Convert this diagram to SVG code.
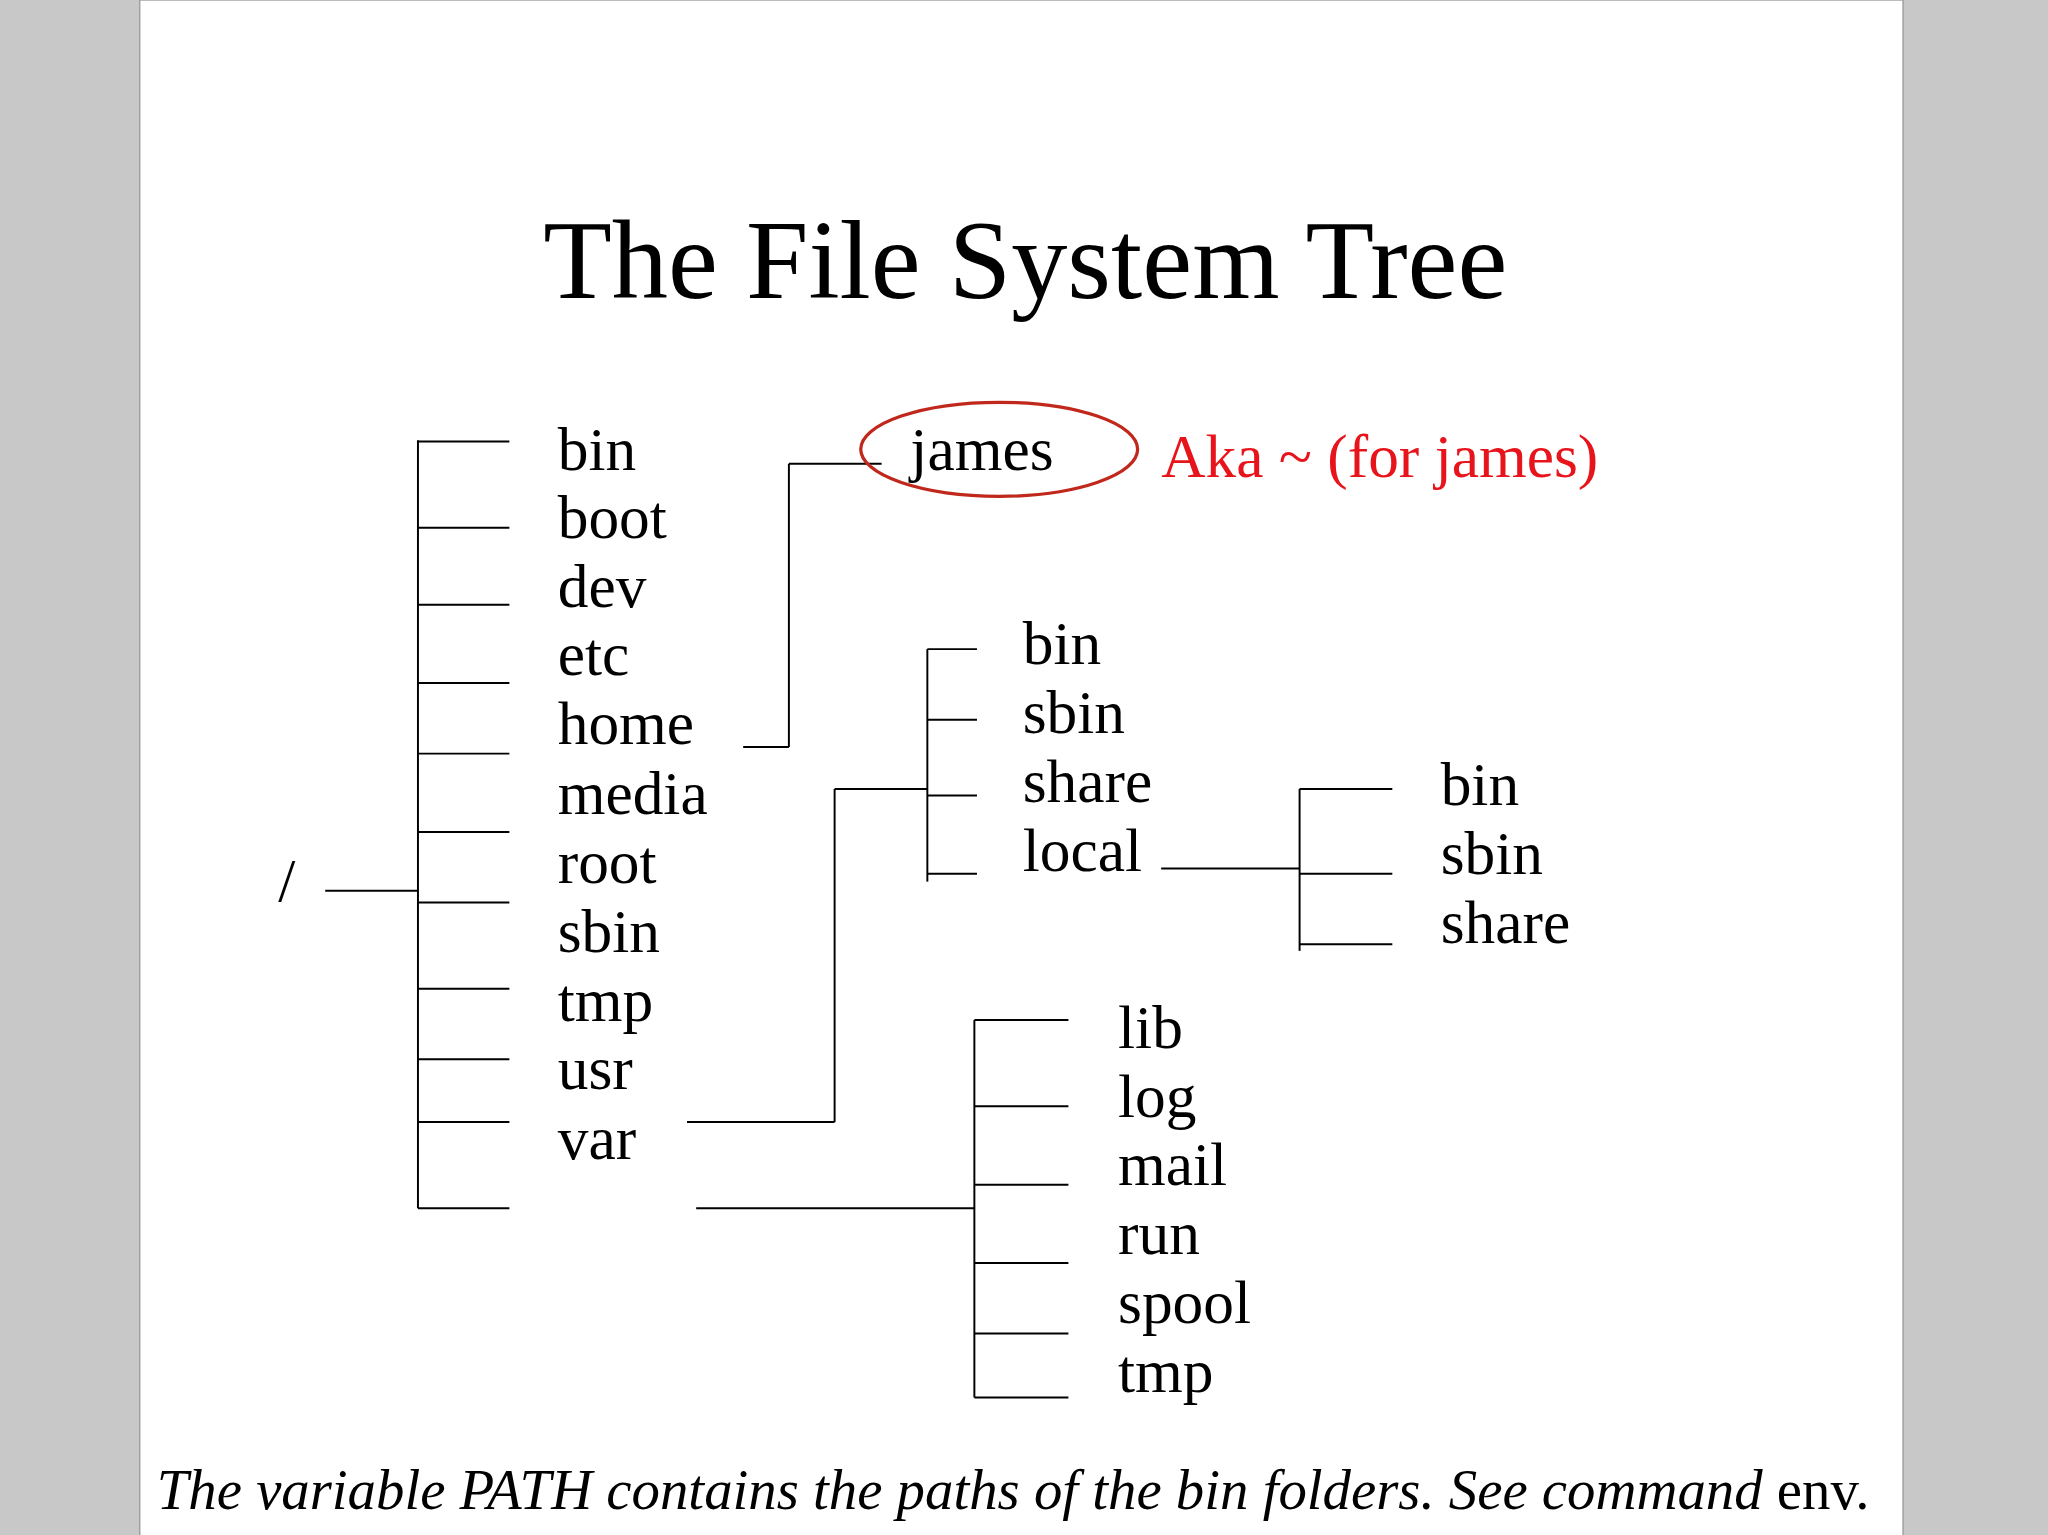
<svg xmlns="http://www.w3.org/2000/svg" width="2048" height="1535" viewBox="0 0 2048 1535">
<style>
.t{font-family:"Liberation Serif",serif;font-size:47px;fill:#000}
.c line{stroke:#000;stroke-width:1.5}
</style>
<rect width="2048" height="1535" fill="#c8c8c8"/>
<g transform="scale(1.30612)">
<rect x="107" y="0" width="1350" height="1176" fill="#fff" stroke="#999" stroke-width="1"/>
<text x="785" y="228" text-anchor="middle" style="font-family:'Liberation Serif',serif;font-size:86px">The File System Tree</text>
<g class="c">
<line x1="249" y1="682" x2="320" y2="682"/>
<line x1="320" y1="337" x2="320" y2="925"/>
<line x1="320" y1="338" x2="390" y2="338"/><line x1="320" y1="404" x2="390" y2="404"/><line x1="320" y1="463" x2="390" y2="463"/><line x1="320" y1="523" x2="390" y2="523"/><line x1="320" y1="577" x2="390" y2="577"/><line x1="320" y1="637" x2="390" y2="637"/><line x1="320" y1="691" x2="390" y2="691"/><line x1="320" y1="757" x2="390" y2="757"/><line x1="320" y1="811" x2="390" y2="811"/><line x1="320" y1="859" x2="390" y2="859"/><line x1="320" y1="925" x2="390" y2="925"/>
<line x1="569" y1="572" x2="604" y2="572"/><line x1="604" y1="355" x2="604" y2="572"/><line x1="604" y1="355" x2="675" y2="355"/>
<line x1="526" y1="859" x2="639" y2="859"/><line x1="639" y1="604" x2="639" y2="859"/><line x1="639" y1="604" x2="710" y2="604"/>
<line x1="710" y1="497" x2="710" y2="675"/>
<line x1="710" y1="497" x2="748" y2="497"/><line x1="710" y1="551" x2="748" y2="551"/><line x1="710" y1="609" x2="748" y2="609"/><line x1="710" y1="669" x2="748" y2="669"/>
<line x1="889" y1="665" x2="995" y2="665"/><line x1="995" y1="604" x2="995" y2="728"/>
<line x1="995" y1="604" x2="1066" y2="604"/><line x1="995" y1="669" x2="1066" y2="669"/><line x1="995" y1="723" x2="1066" y2="723"/>
<line x1="533" y1="925" x2="746" y2="925"/><line x1="746" y1="781" x2="746" y2="1070"/>
<line x1="746" y1="781" x2="818" y2="781"/><line x1="746" y1="847" x2="818" y2="847"/><line x1="746" y1="907" x2="818" y2="907"/><line x1="746" y1="967" x2="818" y2="967"/><line x1="746" y1="1021" x2="818" y2="1021"/><line x1="746" y1="1070" x2="818" y2="1070"/>
</g>
<g id="root"><text class="t" x="213" y="690">/</text></g>
<g id="top">
<text class="t" x="427" y="360">bin</text><text class="t" x="427" y="412">boot</text><text class="t" x="427" y="465">dev</text><text class="t" x="427" y="517">etc</text><text class="t" x="427" y="570">home</text><text class="t" x="427" y="623">media</text><text class="t" x="427" y="676">root</text><text class="t" x="427" y="729">sbin</text><text class="t" x="427" y="782">tmp</text><text class="t" x="427" y="834">usr</text><text class="t" x="427" y="887">var</text>
</g>
<g id="james"><ellipse cx="765" cy="344" rx="106" ry="36" fill="none" stroke="#c0281c" stroke-width="2.5"/><text class="t" x="697" y="360">james</text>
<text x="889" y="365" style="font-family:'Liberation Serif',serif;font-size:47px;fill:#e8141c">Aka ~ (for james)</text></g>
<g id="usr"><text class="t" x="783" y="508">bin</text><text class="t" x="783" y="561">sbin</text><text class="t" x="783" y="614">share</text><text class="t" x="783" y="667">local</text></g>
<g id="local"><text class="t" x="1103" y="616">bin</text><text class="t" x="1103" y="669">sbin</text><text class="t" x="1103" y="722">share</text></g>
<g id="var"><text class="t" x="856" y="802">lib</text><text class="t" x="856" y="855">log</text><text class="t" x="856" y="907">mail</text><text class="t" x="856" y="960">run</text><text class="t" x="856" y="1013">spool</text><text class="t" x="856" y="1066">tmp</text></g>
<text x="120" y="1155" style="font-family:'Liberation Serif',serif;font-size:43.5px"><tspan font-style="italic">The variable PATH contains the paths of the bin folders. See command </tspan>env.</text>
</g>
</svg>
